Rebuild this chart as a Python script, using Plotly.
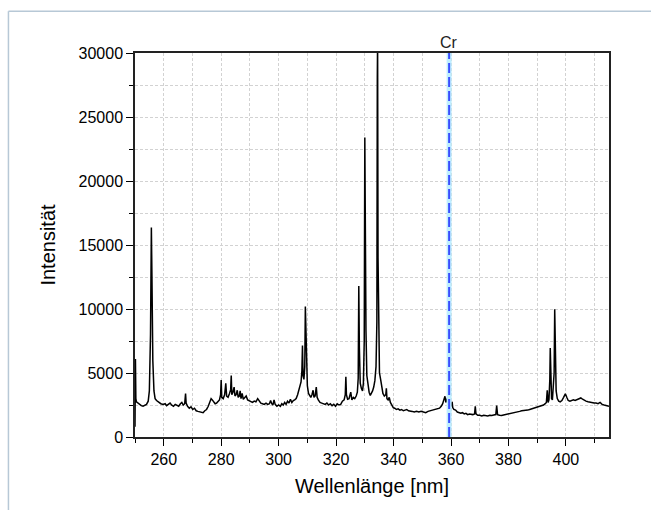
import plotly.graph_objects as go

# Spectrum (wavelength nm, intensity)
wavelength = [
    250.0, 250.15, 250.3, 250.5, 251.0, 251.6, 252.2, 252.8, 253.4, 254.0, 254.6, 255.0, 255.4, 255.7, 255.9,
    256.2, 256.6, 257.0, 257.5, 258.2, 259.0, 259.8, 260.5, 261.0, 261.6, 262.2, 262.8, 263.4, 264.0, 264.6,
    265.2, 265.8, 266.3, 266.8, 267.3, 267.6, 267.8, 268.3, 268.9, 269.5, 270.1, 270.7, 271.3, 271.9, 272.5,
    273.1, 273.7, 274.3, 274.9, 275.5, 276.0, 276.5, 276.9, 277.4, 277.9, 278.4, 278.9, 279.4, 279.8, 280.0,
    280.2, 280.7, 281.2, 281.6, 281.9, 282.4, 282.9, 283.3, 283.5, 283.7, 284.1, 284.5, 284.8, 285.2, 285.6,
    285.9, 286.3, 286.6, 286.9, 287.3, 287.7, 288.2, 288.7, 289.2, 289.7, 290.3, 290.9, 291.5, 292.1, 292.7,
    293.2, 293.8, 294.4, 295.0, 295.6, 296.2, 296.8, 297.2, 297.6, 298.0, 298.4, 298.8, 299.4, 300.0, 300.6,
    301.1, 301.6, 302.1, 302.6, 303.1, 303.6, 304.1, 304.6, 305.1, 305.6, 306.1, 306.6, 307.0, 307.4, 307.8,
    308.1, 308.3, 308.5, 308.8, 309.1, 309.3, 309.5, 309.7, 310.0, 310.4, 310.8, 311.2, 311.6, 312.0, 312.3,
    312.7, 313.1, 313.4, 313.8, 314.4, 315.0, 315.6, 316.2, 316.8, 317.4, 318.0, 318.6, 319.2, 319.8, 320.4,
    321.0, 321.6, 322.2, 322.8, 323.2, 323.4, 323.6, 324.0, 324.5, 325.1, 325.5, 326.0, 326.5, 327.0, 327.4,
    327.7, 327.9, 328.1, 328.4, 328.8, 329.2, 329.5, 329.8, 330.0, 330.2, 330.4, 330.7, 331.1, 331.5, 331.9,
    332.3, 332.7, 333.1, 333.5, 333.9, 334.2, 334.35, 334.45, 334.6, 334.8, 335.1, 335.5, 335.9, 336.3, 336.8,
    337.3, 337.5, 337.7, 338.1, 338.5, 338.9, 339.4, 339.9, 340.4, 341.0, 341.6, 342.2, 342.8, 343.4, 344.0,
    344.6, 345.2, 345.8, 346.5, 347.2, 348.0, 348.8, 349.6, 350.4, 351.2, 352.0, 352.8, 353.6, 354.4, 355.2,
    356.0, 356.6, 357.1, 357.5, 357.9, 358.2, 358.6, 358.9, 359.2, 359.6, 360.0, 360.4, 360.6, 361.0, 361.6,
    362.2, 362.8, 363.4, 364.0, 364.6, 365.2, 365.8, 366.4, 367.0, 367.6, 368.2, 368.45, 368.7, 369.3, 370.0,
    370.7, 371.4, 372.1, 372.8, 373.5, 374.2, 374.9, 375.6, 375.9, 376.2, 376.9, 377.6, 378.3, 379.0, 379.7,
    380.4, 381.1, 381.8, 382.5, 383.2, 383.9, 384.6, 385.3, 386.0, 386.7, 387.4, 388.1, 388.8, 389.5, 390.2,
    390.9, 391.6, 392.2, 392.8, 393.2, 393.5, 393.8, 394.1, 394.4, 394.55, 394.7, 395.0, 395.3, 395.6, 395.9,
    396.1, 396.3, 396.6, 397.0, 397.5, 398.0, 398.6, 399.2, 399.8, 400.3, 400.8, 401.4, 402.0, 402.6, 403.2,
    403.8, 404.5, 405.2, 405.8, 406.4, 407.0, 407.7, 408.4, 409.1, 409.8, 410.5, 411.2, 411.9, 412.6, 413.3,
    414.0, 414.7, 415.0,
]
intensity = [
    800, 6100, 3000, 2750, 2650, 2500, 2450, 2400, 2480, 2550, 2800, 3600, 8000, 16370, 12500,
    6000, 3600, 3000, 2850, 2700, 2600, 2550, 2600, 2450, 2550, 2650, 2480, 2400, 2550, 2450,
    2400, 2600, 2700, 2500, 2600, 3400, 2650, 2400, 2250, 2350, 2150, 2250, 2050, 2000, 1950,
    1950, 1900, 2050, 2150, 2400, 2700, 3000, 2900, 2700, 2600, 2650, 2750, 2900, 3300, 4460,
    3100, 3000, 3300, 4200, 3200, 3100, 3400, 3700, 4800, 3300, 3500, 3900, 3200, 3300, 3650,
    3100, 3200, 3600, 3000, 3400, 2950, 3100, 3200, 2900, 2850, 2750, 2700, 2800, 2750, 3000,
    2800, 2650, 2600, 2550, 2650, 2550, 2600, 2850, 2600, 2500, 2900, 2550, 2400, 2500, 2400,
    2600, 2500, 2700, 2550, 2800, 2650, 2950, 2700, 2850, 2900, 3000, 3300, 3700, 3900, 4300,
    5200, 7150, 4800, 4500, 5500, 10200, 8400, 5200, 4000, 3400, 3200, 3100, 3300, 3650, 3100,
    3200, 3900, 3100, 2900, 2700, 2650, 2600, 2550, 2650, 2500, 2600, 2450, 2550, 2400, 2600,
    2500, 2550, 2800, 2900, 3300, 4700, 3300, 2950, 3000, 3500, 2900, 3100, 3000, 3200, 3500,
    4600, 11800, 7000, 4200, 3800, 3600, 4200, 7500, 23400, 12000, 8300, 4800, 4000, 3500, 3250,
    3400, 3600, 3900, 4400, 5500, 9000, 28100, 31000, 14000, 7000, 5000, 4500, 3800, 3400, 3200,
    3300, 3800, 3000, 2900, 3100, 2700, 2500, 2300, 2250, 2150, 2200, 2100, 2150, 2050, 2100,
    2150, 2050, 2000, 2000, 1950, 2000, 1950, 2000, 1950, 1900, 2000, 2050, 2100, 2100, 2200,
    2250, 2400, 2600, 2900, 3180, 2700, 2900, 3100, 2700, 2500, 2400, 2750, 2300, 2150, 2100,
    1950, 1900, 1850, 1900, 1800, 1850, 1750, 1800, 1750, 1750, 1800, 2400, 1800, 1700, 1700,
    1650, 1700, 1680, 1650, 1700, 1680, 1720, 1750, 2450, 1750, 1700, 1680, 1720, 1750, 1800,
    1850, 1850, 1900, 1950, 1950, 2000, 2050, 2050, 2100, 2100, 2150, 2200, 2200, 2250, 2300,
    2350, 2400, 2500, 2600, 2700, 3650, 2700, 2900, 4500, 6950, 4000, 3000, 2900, 3900, 5000,
    9970, 6000, 3600, 3000, 2800, 2750, 2850, 3100, 3380, 3100, 2850, 2800, 2850, 2900, 2850,
    2900, 2950, 3050, 2950, 2850, 2800, 2750, 2700, 2700, 2650, 2650, 2600, 2700, 2550, 2500,
    2450, 2400, 2400,
]

cr_line = 359.35
cr_label = "Cr"
x_ticks = [260, 280, 300, 320, 340, 360, 380, 400]
y_ticks = [0, 5000, 10000, 15000, 20000, 25000, 30000]

FONT = "Liberation Sans, Arial, sans-serif"

fig = go.Figure()
fig.add_trace(go.Scatter(x=wavelength, y=intensity, mode="lines",
                         line=dict(color="black", width=1.5), showlegend=False,
                         hoverinfo="skip"))

# Cr marker line: light glow + blue dashed line
fig.add_shape(type="line", xref="x", yref="y", x0=cr_line, x1=cr_line, y0=0, y1=30000,
              line=dict(color="#bfeeff", width=5))
fig.add_shape(type="line", xref="x", yref="y", x0=cr_line, x1=cr_line, y0=0, y1=30000,
              line=dict(color="#3a4dff", width=2, dash="10px,4px"))
fig.add_annotation(x=cr_line, y=1.0, xref="x", yref="paper", text=cr_label, showarrow=False,
                   yanchor="bottom", yshift=0, font=dict(family=FONT, size=16, color="#222"))

# outer frame (top and left edge visible)
fig.add_shape(type="line", xref="paper", yref="paper", x0=-0.267, x1=1.2, y0=1.1086, y1=1.1086,
              line=dict(color="#b7c8d6", width=1.5))
fig.add_shape(type="line", xref="paper", yref="paper", x0=-0.267, x1=-0.267, y0=1.1086, y1=-0.3,
              line=dict(color="#b7c8d6", width=1.5))

GRIDC = "#d2d2d2"
GDASH = "3px,2px"

fig.update_xaxes(range=[250, 415], tickmode="array", tickvals=x_ticks, automargin=False,
                 ticks="outside", ticklen=7, tickwidth=1.2, tickcolor="black",
                 showline=True, linecolor="#222", linewidth=1.5, mirror=True,
                 zeroline=False,
                 showgrid=True, gridcolor=GRIDC, griddash=GDASH, gridwidth=1,
                 minor=dict(dtick=10, tick0=250, ticks="outside", ticklen=4, tickcolor="black",
                            showgrid=True, gridcolor=GRIDC, griddash=GDASH, gridwidth=1),
                 title=dict(text="Wellenlänge [nm]", font=dict(family=FONT, size=20, color="black"),
                            standoff=12),
                 tickfont=dict(family=FONT, size=16, color="black"))
fig.update_yaxes(range=[0, 30000], tickmode="array", tickvals=y_ticks, tickformat="d",
                 automargin=False,
                 ticks="outside", ticklen=7, tickwidth=1.2, tickcolor="black",
                 showline=True, linecolor="#222", linewidth=1.5, mirror=True,
                 zeroline=False,
                 showgrid=True, gridcolor=GRIDC, griddash=GDASH, gridwidth=1,
                 minor=dict(dtick=2500, tick0=0, ticks="outside", ticklen=4, tickcolor="black",
                            showgrid=True, gridcolor=GRIDC, griddash=GDASH, gridwidth=1),
                 title=dict(text="Intensität", font=dict(family=FONT, size=20, color="black"),
                            standoff=18),
                 tickfont=dict(family=FONT, size=16, color="black"))

fig.update_layout(width=651, height=510, margin=dict(l=135, r=42, t=53, b=73),
                  paper_bgcolor="white", plot_bgcolor="white",
                  font=dict(family=FONT))

fig.write_html("out.html", config={"displayModeBar": False},
               post_script="document.body.style.margin='0';document.body.style.overflow='hidden';")
